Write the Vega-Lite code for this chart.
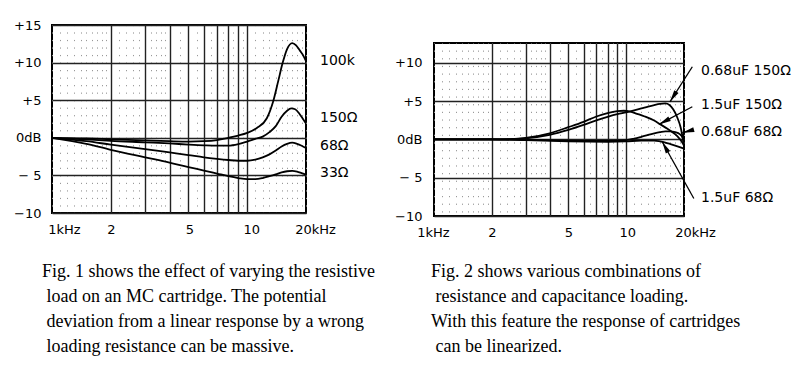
{
  "$schema": "https://vega.github.io/schema/vega-lite/v6.json",
  "background": "white",
  "padding": {"left": 12, "top": 18, "right": 5, "bottom": 5},
  "config": {
    "view": {"stroke": "#000", "strokeWidth": 2},
    "axis": {"labelFont": "DejaVu Sans", "labelFontSize": 13, "labelColor": "#000", "labelOverlap": false}
  },
  "datasets": {
    "c1": [
      {"s": "100k", "f": 1, "db": 0}, {"s": "100k", "f": 1.5, "db": -0.08}, {"s": "100k", "f": 2, "db": -0.2}, {"s": "100k", "f": 3, "db": -0.35}, {"s": "100k", "f": 4, "db": -0.45}, {"s": "100k", "f": 5, "db": -0.5}, {"s": "100k", "f": 6, "db": -0.45}, {"s": "100k", "f": 7, "db": -0.3}, {"s": "100k", "f": 8, "db": 0}, {"s": "100k", "f": 9, "db": 0.3}, {"s": "100k", "f": 10, "db": 0.66}, {"s": "100k", "f": 11.2, "db": 1.3}, {"s": "100k", "f": 12.6, "db": 2.6}, {"s": "100k", "f": 13.6, "db": 4.9}, {"s": "100k", "f": 14.4, "db": 7.5}, {"s": "100k", "f": 15.2, "db": 10}, {"s": "100k", "f": 16, "db": 11.8}, {"s": "100k", "f": 17, "db": 12.6}, {"s": "100k", "f": 17.8, "db": 12.3}, {"s": "100k", "f": 18.6, "db": 11.6}, {"s": "100k", "f": 19.4, "db": 10.9}, {"s": "100k", "f": 20, "db": 10.2},
      {"s": "150", "f": 1, "db": 0}, {"s": "150", "f": 1.5, "db": -0.2}, {"s": "150", "f": 2, "db": -0.4}, {"s": "150", "f": 3, "db": -0.6}, {"s": "150", "f": 4, "db": -0.75}, {"s": "150", "f": 5, "db": -0.9}, {"s": "150", "f": 6, "db": -1.0}, {"s": "150", "f": 7, "db": -1.05}, {"s": "150", "f": 8, "db": -1.05}, {"s": "150", "f": 9, "db": -0.85}, {"s": "150", "f": 10, "db": -0.5}, {"s": "150", "f": 11, "db": -0.15}, {"s": "150", "f": 12, "db": 0.15}, {"s": "150", "f": 13, "db": 0.75}, {"s": "150", "f": 14, "db": 1.55}, {"s": "150", "f": 15, "db": 2.8}, {"s": "150", "f": 16, "db": 3.6}, {"s": "150", "f": 16.8, "db": 3.9}, {"s": "150", "f": 17.6, "db": 3.8}, {"s": "150", "f": 18.5, "db": 3.2}, {"s": "150", "f": 19.3, "db": 2.5}, {"s": "150", "f": 20, "db": 1.9},
      {"s": "68", "f": 1, "db": 0}, {"s": "68", "f": 1.5, "db": -0.45}, {"s": "68", "f": 2, "db": -0.9}, {"s": "68", "f": 3, "db": -1.5}, {"s": "68", "f": 4, "db": -1.95}, {"s": "68", "f": 5, "db": -2.3}, {"s": "68", "f": 6, "db": -2.6}, {"s": "68", "f": 7, "db": -2.8}, {"s": "68", "f": 8, "db": -2.95}, {"s": "68", "f": 9, "db": -3.05}, {"s": "68", "f": 10, "db": -3.05}, {"s": "68", "f": 11, "db": -2.9}, {"s": "68", "f": 12, "db": -2.6}, {"s": "68", "f": 13, "db": -2.2}, {"s": "68", "f": 14, "db": -1.7}, {"s": "68", "f": 15, "db": -1.15}, {"s": "68", "f": 16, "db": -0.8}, {"s": "68", "f": 17, "db": -0.65}, {"s": "68", "f": 18, "db": -0.8}, {"s": "68", "f": 19, "db": -1.05}, {"s": "68", "f": 20, "db": -1.35},
      {"s": "33", "f": 1, "db": 0}, {"s": "33", "f": 1.5, "db": -0.8}, {"s": "33", "f": 2, "db": -1.6}, {"s": "33", "f": 3, "db": -2.6}, {"s": "33", "f": 4, "db": -3.3}, {"s": "33", "f": 5, "db": -3.9}, {"s": "33", "f": 6, "db": -4.35}, {"s": "33", "f": 7, "db": -4.75}, {"s": "33", "f": 8, "db": -5.1}, {"s": "33", "f": 9, "db": -5.35}, {"s": "33", "f": 10, "db": -5.5}, {"s": "33", "f": 11, "db": -5.5}, {"s": "33", "f": 12, "db": -5.35}, {"s": "33", "f": 13, "db": -5.1}, {"s": "33", "f": 14, "db": -4.85}, {"s": "33", "f": 15, "db": -4.6}, {"s": "33", "f": 16, "db": -4.45}, {"s": "33", "f": 17, "db": -4.4}, {"s": "33", "f": 18, "db": -4.5}, {"s": "33", "f": 19, "db": -4.7}, {"s": "33", "f": 20, "db": -4.9}
    ],
    "c2": [
      {"s": "A", "f": 1, "db": 0}, {"s": "A", "f": 2, "db": 0}, {"s": "A", "f": 2.5, "db": 0.05}, {"s": "A", "f": 3, "db": 0.2}, {"s": "A", "f": 4, "db": 0.8}, {"s": "A", "f": 5, "db": 1.6}, {"s": "A", "f": 6, "db": 2.3}, {"s": "A", "f": 7, "db": 3.0}, {"s": "A", "f": 8, "db": 3.45}, {"s": "A", "f": 9, "db": 3.7}, {"s": "A", "f": 9.7, "db": 3.75}, {"s": "A", "f": 10.5, "db": 3.65}, {"s": "A", "f": 11.4, "db": 3.35}, {"s": "A", "f": 12.5, "db": 3.0}, {"s": "A", "f": 13.9, "db": 2.5}, {"s": "A", "f": 15, "db": 2.0}, {"s": "A", "f": 16.4, "db": 1.4}, {"s": "A", "f": 17.5, "db": 0.9}, {"s": "A", "f": 18.5, "db": 0.4}, {"s": "A", "f": 19.6, "db": -0.4}, {"s": "A", "f": 20, "db": -0.8},
      {"s": "B", "f": 1, "db": 0}, {"s": "B", "f": 2, "db": 0}, {"s": "B", "f": 2.5, "db": 0.05}, {"s": "B", "f": 3, "db": 0.15}, {"s": "B", "f": 4, "db": 0.6}, {"s": "B", "f": 5, "db": 1.25}, {"s": "B", "f": 6, "db": 1.9}, {"s": "B", "f": 7, "db": 2.5}, {"s": "B", "f": 8, "db": 2.95}, {"s": "B", "f": 9, "db": 3.3}, {"s": "B", "f": 10, "db": 3.55}, {"s": "B", "f": 11, "db": 3.8}, {"s": "B", "f": 12, "db": 4.05}, {"s": "B", "f": 13, "db": 4.3}, {"s": "B", "f": 14, "db": 4.5}, {"s": "B", "f": 15, "db": 4.65}, {"s": "B", "f": 16, "db": 4.7}, {"s": "B", "f": 16.8, "db": 4.5}, {"s": "B", "f": 17.6, "db": 3.9}, {"s": "B", "f": 18.5, "db": 2.8}, {"s": "B", "f": 19.2, "db": 1.6}, {"s": "B", "f": 20, "db": -0.7},
      {"s": "C", "f": 1, "db": 0}, {"s": "C", "f": 2, "db": 0}, {"s": "C", "f": 3, "db": -0.05}, {"s": "C", "f": 5, "db": -0.15}, {"s": "C", "f": 8, "db": -0.2}, {"s": "C", "f": 10, "db": -0.1}, {"s": "C", "f": 11, "db": 0.1}, {"s": "C", "f": 12, "db": 0.35}, {"s": "C", "f": 13, "db": 0.6}, {"s": "C", "f": 14, "db": 0.8}, {"s": "C", "f": 15, "db": 0.95}, {"s": "C", "f": 16, "db": 1.05}, {"s": "C", "f": 17, "db": 1.05}, {"s": "C", "f": 18, "db": 0.95}, {"s": "C", "f": 19, "db": 0.7}, {"s": "C", "f": 19.6, "db": 0.3}, {"s": "C", "f": 20, "db": -0.4},
      {"s": "D", "f": 1, "db": 0}, {"s": "D", "f": 2, "db": 0}, {"s": "D", "f": 3, "db": -0.1}, {"s": "D", "f": 5, "db": -0.25}, {"s": "D", "f": 8, "db": -0.3}, {"s": "D", "f": 10, "db": -0.25}, {"s": "D", "f": 12, "db": -0.15}, {"s": "D", "f": 14, "db": -0.15}, {"s": "D", "f": 15, "db": -0.25}, {"s": "D", "f": 16, "db": -0.4}, {"s": "D", "f": 17, "db": -0.6}, {"s": "D", "f": 18, "db": -0.8}, {"s": "D", "f": 19, "db": -1.0}, {"s": "D", "f": 20, "db": -1.2}
    ],
    "l1": [
      {"f": 20, "db": 10.17, "t": "100k"},
      {"f": 20, "db": 2.66, "t": "150Ω"},
      {"f": 20, "db": -1.12, "t": "68Ω"},
      {"f": 20, "db": -4.65, "t": "33Ω"}
    ],
    "l2": [
      {"f": 20, "db": 8.97, "t": "0.68uF 150Ω"},
      {"f": 20, "db": 4.53, "t": "1.5uF 150Ω"},
      {"f": 20, "db": 1.0, "t": "0.68uF 68Ω"},
      {"f": 20, "db": -7.6, "t": "1.5uF 68Ω"}
    ],
    "ar": [
      {"f1": 22.1, "d1": 9.5, "f2": 16.9, "d2": 4.92, "a": 212.6},
      {"f1": 22.1, "d1": 4.27, "f2": 14.8, "d2": 1.96, "a": 242.1},
      {"f1": 22.1, "d1": 1.23, "f2": 19.6, "d2": 0.88, "a": 255},
      {"f1": 22.5, "d1": -7.71, "f2": 15.4, "d2": -0.3, "a": 330.9}
    ]
  },
  "spacing": 16,
  "hconcat": [
    {
      "width": 254,
      "height": 188,
      "title": {
        "text": ["Fig. 1 shows the effect of varying the resistive", "\u200b\u00a0load on an MC cartridge. The potential", "\u200b\u00a0deviation from a linear response by a wrong", "\u200b\u00a0loading resistance can be massive."],
        "orient": "bottom", "anchor": "start", "frame": "group", "dx": -10, "offset": 27,
        "font": "Liberation Serif", "fontSize": 18, "fontWeight": "normal", "lineHeight": 25, "color": "#000"
      },
      "resolve": {"axis": {"x": "independent", "y": "independent"}},
      "layer": [
        {
          "data": {"name": "c1"},
          "mark": {"type": "line", "interpolate": "monotone", "color": "#000", "strokeWidth": 1.8},
          "encoding": {
            "x": {
              "field": "f", "type": "quantitative",
              "scale": {"type": "log", "domain": [1, 20], "nice": false},
              "axis": {
                "orient": "bottom", "title": null, "ticks": false, "domain": false,
                "values": [1, 1.1, 1.2, 1.3, 1.4, 1.5, 1.6, 1.7, 1.8, 1.9, 2, 2.2, 2.4, 2.6, 2.8, 3, 3.2, 3.4, 3.6, 3.8, 4, 4.5, 5, 5.5, 6, 6.5, 7, 7.5, 8, 8.5, 9, 9.5, 10, 11, 12, 13, 14, 15, 16, 17, 18, 19, 20],
                "labelExpr": "datum.value == 1 ? '1kHz' : datum.value == 20 ? '20kHz' : (datum.value == 2 || datum.value == 5 || datum.value == 10) ? '' + datum.value : ''",
                "labelPadding": 10, "labelFlush": false, "labelOverlap": false, "labelFontSize": 13,
                "labelOffset": {"condition": [{"test": "datum.value == 1", "value": 12}, {"test": "datum.value == 20", "value": 9}, {"test": "datum.value == 10", "value": 4}, {"test": "datum.value == 5", "value": 1}], "value": 0},
                "grid": true, "gridColor": "#999", "gridWidth": 1.0, "gridDash": [1.2, 6.32], "gridDashOffset": 0.6
              }
            },
            "y": {
              "field": "db", "type": "quantitative",
              "scale": {"domain": [-10, 15], "nice": false},
              "axis": {
                "orient": "left", "title": null, "ticks": false, "domain": false, "labelOverlap": false, "labelFontSize": 13,
                "values": [-10, -5, 0, 5, 10, 15],
                "labelExpr": "datum.value == 0 ? '0dB' : datum.value > 0 ? '+' + datum.value : datum.value == -5 ? '\u2212 5' : '\u221210'",
                "labelPadding": 11,
                "grid": true, "gridColor": "#222", "gridWidth": 1.4
              }
            },
            "detail": {"field": "s"}
          }
        },
        {
          "data": {"name": "l1"},
          "mark": {"type": "text", "align": "left", "baseline": "middle", "dx": 14, "font": "DejaVu Sans", "fontSize": 14, "color": "#000"},
          "encoding": {
            "x": {
              "field": "f", "type": "quantitative",
              "axis": {"orient": "top", "title": null, "labels": false, "ticks": false, "domain": false, "values": [2, 3, 4, 5, 6, 7, 8, 9, 10], "grid": true, "gridColor": "#222", "gridWidth": 1.4}
            },
            "y": {"field": "db", "type": "quantitative", "axis": null},
            "text": {"field": "t"}
          }
        }
      ]
    },
    {
      "spacing": 0,
      "vconcat": [
        {
          "width": 250,
          "height": 16.5,
          "view": {"stroke": null},
          "data": {"values": [{}]},
          "mark": {"type": "text", "text": ""},
          "encoding": {}
        },
        {
          "width": 250,
          "height": 173,
          "title": {
            "text": ["Fig. 2 shows various combinations of", "\u200b\u00a0resistance and capacitance loading.", "With this feature the response of cartridges", "\u200b\u00a0can be linearized."],
            "orient": "bottom", "anchor": "start", "frame": "group", "dx": -3, "offset": 24,
            "font": "Liberation Serif", "fontSize": 18, "fontWeight": "normal", "lineHeight": 25, "color": "#000"
          },
          "resolve": {"axis": {"x": "independent", "y": "independent"}},
          "layer": [
            {
              "data": {"name": "c2"},
              "mark": {"type": "line", "interpolate": "monotone", "color": "#000", "strokeWidth": 1.8},
              "encoding": {
                "x": {
                  "field": "f", "type": "quantitative",
                  "scale": {"type": "log", "domain": [1, 20], "nice": false},
                  "axis": {
                    "orient": "bottom", "title": null, "ticks": false, "domain": false,
                    "values": [1, 1.1, 1.2, 1.3, 1.4, 1.5, 1.6, 1.7, 1.8, 1.9, 2, 2.2, 2.4, 2.6, 2.8, 3, 3.2, 3.4, 3.6, 3.8, 4, 4.5, 5, 5.5, 6, 6.5, 7, 7.5, 8, 8.5, 9, 9.5, 10, 11, 12, 13, 14, 15, 16, 17, 18, 19, 20],
                    "labelExpr": "datum.value == 1 ? '1kHz' : datum.value == 20 ? '20kHz' : (datum.value == 2 || datum.value == 5 || datum.value == 10) ? '' + datum.value : ''",
                    "labelPadding": 10, "labelFlush": false, "labelOverlap": false, "labelFontSize": 13,
                    "labelOffset": {"condition": [{"test": "datum.value == 1", "value": -1}, {"test": "datum.value == 20", "value": 11}, {"test": "datum.value == 10", "value": 1}], "value": 0},
                    "grid": true, "gridColor": "#999", "gridWidth": 1.0, "gridDash": [1.2, 6.455], "gridDashOffset": 0.6
                  }
                },
                "y": {
                  "field": "db", "type": "quantitative",
                  "scale": {"domain": [-10, 12.6], "nice": false},
                  "axis": {
                    "orient": "left", "title": null, "ticks": false, "domain": false, "labelOverlap": false, "labelFontSize": 13,
                    "values": [-10, -5, 0, 5, 10],
                    "labelExpr": "datum.value == 0 ? '0dB' : datum.value > 0 ? '+' + datum.value : datum.value == -5 ? '\u2212 5' : '\u221210'",
                    "labelPadding": 12,
                    "grid": true, "gridColor": "#222", "gridWidth": 1.4
                  }
                },
                "detail": {"field": "s"}
              }
            },
            {
              "data": {"name": "l2"},
              "mark": {"type": "text", "align": "left", "baseline": "middle", "dx": 17, "font": "DejaVu Sans", "fontSize": 14, "color": "#000"},
              "encoding": {
                "x": {
                  "field": "f", "type": "quantitative",
                  "axis": {"orient": "top", "title": null, "labels": false, "ticks": false, "domain": false, "values": [2, 3, 4, 5, 6, 7, 8, 9, 10], "grid": true, "gridColor": "#222", "gridWidth": 1.4}
                },
                "y": {"field": "db", "type": "quantitative", "axis": null},
                "text": {"field": "t"}
              }
            },
            {
              "data": {"name": "ar"},
              "mark": {"type": "rule", "color": "#000", "strokeWidth": 1.3},
              "encoding": {
                "x": {"field": "f1", "type": "quantitative", "axis": null},
                "x2": {"field": "f2"},
                "y": {"field": "d1", "type": "quantitative", "axis": null},
                "y2": {"field": "d2"}
              }
            },
            {
              "data": {"name": "ar"},
              "mark": {"type": "point", "shape": "M0,0L0.25,1.2L-0.25,1.2Z", "filled": true, "color": "#000", "opacity": 1, "size": 400, "strokeWidth": 0},
              "encoding": {
                "x": {"field": "f2", "type": "quantitative", "axis": null},
                "y": {"field": "d2", "type": "quantitative", "axis": null},
                "angle": {"field": "a", "type": "quantitative", "scale": null}
              }
            }
          ]
        }
      ]
    }
  ]
}
